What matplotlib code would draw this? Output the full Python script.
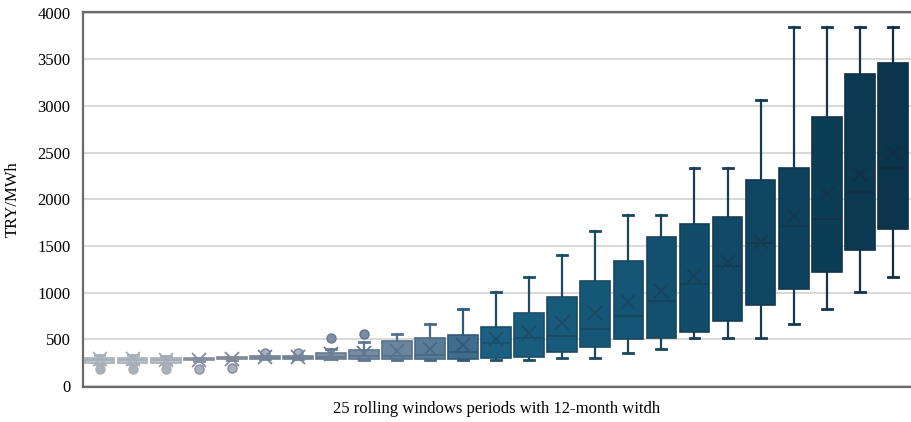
import matplotlib
matplotlib.use("Agg")
import matplotlib.pyplot as plt

# ---- data (TRY/MWh) ----
periods = list(range(1, 26))
q1 = [250, 250, 250, 280, 285, 290, 290, 290, 290, 290, 290, 290, 304, 314, 364,
      421, 507, 518, 579, 696, 864, 1043, 1221, 1461, 1682]
median = [280, 280, 275, 290, 300, 305, 305, 310, 320, 320, 330, 370, 457, 511, 532,
          607, 750, 914, 1089, 1286, 1536, 1711, 1789, 2075, 2332]
q3 = [300, 300, 300, 300, 310, 320, 320, 355, 385, 485, 520, 546, 636, 786, 957,
      1129, 1343, 1600, 1736, 1811, 2207, 2339, 2886, 3346, 3464]
whisker_low = [240, 240, 240, 270, 280, 285, 285, 285, 280, 280, 280, 279, 279, 279, 304,
               304, 357, 396, 511, 511, 511, 664, 825, 1004, 1171]
whisker_high = [330, 330, 325, 300, 315, 325, 325, 395, 470, 555, 665, 825, 1004, 1171, 1400,
                1664, 1829, 1829, 2339, 2339, 3064, 3850, 3850, 3850, 3850]
means = [285, 285, 280, 275, 295, 312, 310, 340, 350, 375, 395, 445, 500, 571, 671,
         779, 904, 1021, 1182, 1332, 1546, 1821, 2057, 2271, 2500]
outliers = [[180], [180], [180], [182], [198], [357], [357], [520], [557], [], [], [], [], [], [],
            [], [], [], [], [], [], [], [], [], []]

fill_colors = ["#c3c9d0", "#c3c9d0", "#c0c6cd", "#9ea8b3", "#97a2ae", "#8d99a7", "#8a97a5",
               "#7f90a2", "#778ca0", "#6a859c", "#5a7c96", "#406d8b", "#1b6082", "#185d7e",
               "#175a7a", "#155777", "#145474", "#135070", "#124c6b", "#104866", "#0f4561",
               "#0e425c", "#0c3d56", "#0b3951", "#0a354c"]
edge_colors = ["#a7afb9", "#a7afb9", "#a5adb7", "#8590a0", "#7f8b99", "#76849a", "#748296",
               "#687b90", "#5f768e", "#56718b", "#486a85", "#2f5b78", "#1d4f69", "#1c4d67",
               "#1b4b64", "#1a4962", "#19465f", "#18445c", "#173f58", "#163d55", "#153a52",
               "#14384f", "#13344a", "#123146", "#112e42"]

stats = []
for i in range(len(periods)):
    stats.append(dict(med=median[i], q1=q1[i], q3=q3[i], whislo=whisker_low[i],
                      whishi=whisker_high[i], mean=means[i], fliers=outliers[i]))

plt.rcParams['font.family'] = ['Liberation Serif', 'DejaVu Serif']

fig = plt.figure(figsize=(9.12, 4.22), dpi=100)
ax = fig.add_axes([83 / 912, 1 - 387 / 422, (911 - 83) / 912, (387 - 11.7) / 422])

art = ax.bxp(stats, positions=periods, widths=0.9, capwidths=0.3, patch_artist=True,
             showmeans=True, showfliers=True, manage_ticks=False)

for i in range(len(periods)):
    fc, ec = fill_colors[i], edge_colors[i]
    b = art['boxes'][i]
    b.set_facecolor(fc)
    b.set_edgecolor(ec)
    b.set_linewidth(1.2)
    b.set_zorder(3)
    for w in art['whiskers'][2 * i:2 * i + 2]:
        w.set_color(ec); w.set_linewidth(1.6); w.set_zorder(2)
    for c in art['caps'][2 * i:2 * i + 2]:
        c.set_color(ec); c.set_linewidth(2.0); c.set_zorder(2)
    m = art['medians'][i]
    m.set_color(ec); m.set_linewidth(1.4); m.set_zorder(4)
    mn = art['means'][i]
    mn.set_marker('x'); mn.set_markersize(10); mn.set_markeredgewidth(1.3)
    mn.set_markeredgecolor(ec); mn.set_markerfacecolor(ec); mn.set_zorder(5)
    f = art['fliers'][i]
    f.set_marker('o'); f.set_markersize(6.5); f.set_markerfacecolor(fc if i > 6 else "#a8b0ba")
    f.set_markeredgecolor(ec); f.set_markeredgewidth(1.0)

ax.set_xlim(0.5, 25.55)
ax.set_ylim(-10, 4010)
ax.set_yticks(range(0, 4001, 500))
ax.set_xticks([])
ax.yaxis.grid(True, color="#d9d9d9", linewidth=1.5)
ax.set_axisbelow(True)
ax.tick_params(axis='y', length=0, pad=9, labelsize=12, colors="#000000")

for s in ['left', 'top', 'bottom']:
    ax.spines[s].set_color("#6a6a6a")
    ax.spines[s].set_linewidth(1.6)
ax.spines['right'].set_visible(False)

ax.set_ylabel("TRY/MWh", fontsize=12, labelpad=12)
ax.set_xlabel("25 rolling windows periods with 12-month witdh", fontsize=12, labelpad=10)

fig.savefig("out.png", dpi=100)
